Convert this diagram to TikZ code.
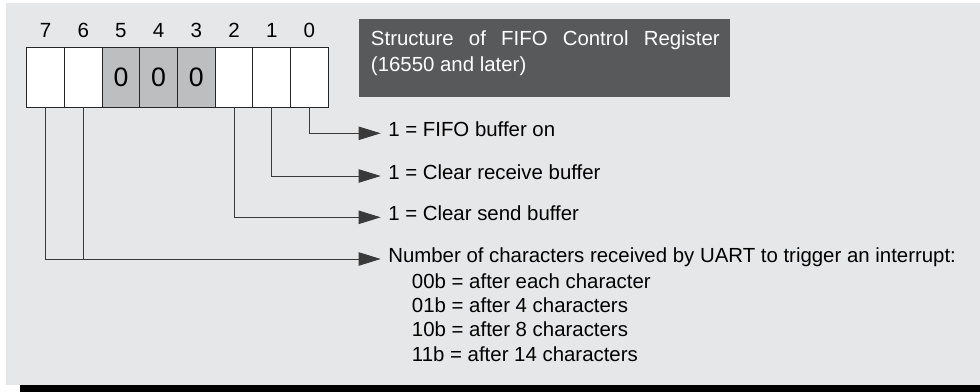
\documentclass[tikz,border=0pt]{standalone}
\usepackage{fontspec}
\setmainfont{Liberation Sans}
\usetikzlibrary{arrows.meta}
\definecolor{bggray}{HTML}{E6E7E8}
\definecolor{cellgray}{HTML}{BDBEC0}
\definecolor{ttlgray}{HTML}{58595B}
\definecolor{lngray}{HTML}{3A3A3A}
\tikzset{
  cel/.style={draw=black!85,line width=0.8pt,fill=white,minimum width=28.3pt,minimum height=45pt,inner sep=0pt,outer sep=0pt},
  zro/.style={cel,fill=cellgray,font=\fontsize{20pt}{24pt}\selectfont},
  num/.style={anchor=base,inner sep=0pt,font=\fontsize{15.4pt}{18pt}\selectfont},
  lbl/.style={anchor=mid west,inner xsep=5.7pt,inner ysep=1pt,outer sep=0pt,font=\fontsize{15.3pt}{18pt}\selectfont},
  sub/.style={anchor=base west,inner sep=0pt,font=\fontsize{15.3pt}{18pt}\selectfont},
  con/.style={draw=lngray,line width=0.75pt,-{Triangle[length=16.5pt,width=10pt]}},
  ttl/.style={anchor=base west,inner sep=0pt,text=white,font=\fontsize{15.3pt}{18pt}\selectfont}
}
\newcommand{\bitx}[1]{45.55+(7-#1)*37.7}

\begin{document}
\begin{tikzpicture}[x=0.75pt,y=-0.75pt]
\useasboundingbox (0,0) rectangle (980,392);
\fill[bggray] (6,3) rectangle (980,385);
\fill[black] (20,385) rectangle (980,392);
% register cells and bit numbers
\foreach \i in {7,6,2,1,0} \node[cel] (b\i) at ({\bitx{\i}},77.3) {};
\foreach \i in {5,4,3} \node[zro] (b\i) at ({\bitx{\i}},77.3) {0};
\foreach \i in {7,...,0} \node[num] (n\i) at ({\bitx{\i}},37.2) {\i};
% title
\node[fill=ttlgray,minimum width=278.25pt,minimum height=58.3pt,inner sep=0pt,anchor=north west] (title) at (359,19) {};
\node[ttl] (ttl1) at (370.7,45.7) {\makebox[261.6pt][s]{Structure of FIFO Control Register}};
\node[ttl] (ttl2) at (370.7,72) {(16550 and later)};
% bit meanings
\node[lbl] (t0) at (380.7,133.3) {1 = FIFO buffer on};
\node[lbl] (t1) at (380.7,176) {1 = Clear receive buffer};
\node[lbl] (t2) at (380.7,217.3) {1 = Clear send buffer};
\node[lbl] (t3) at (380.7,259) {Number of characters received by UART to trigger an interrupt:};
\foreach \s [count=\k] in {00b = after each character,01b = after 4 characters,10b = after 8 characters,11b = after 14 characters}
  \node[sub] (s\k) at (411.7,{264+24.25*\k}) {\s};
\draw[con] (b0.south) |- (t0.mid west);
\draw[con] (b1.south) |- (t1.mid west);
\draw[con] (b2.south) |- (t2.mid west);
\draw[con] (b7.south) |- (t3.mid west);
\draw[con,-] (b6.south) -- (b6.south |- t3.mid west);
\end{tikzpicture}
\end{document}
